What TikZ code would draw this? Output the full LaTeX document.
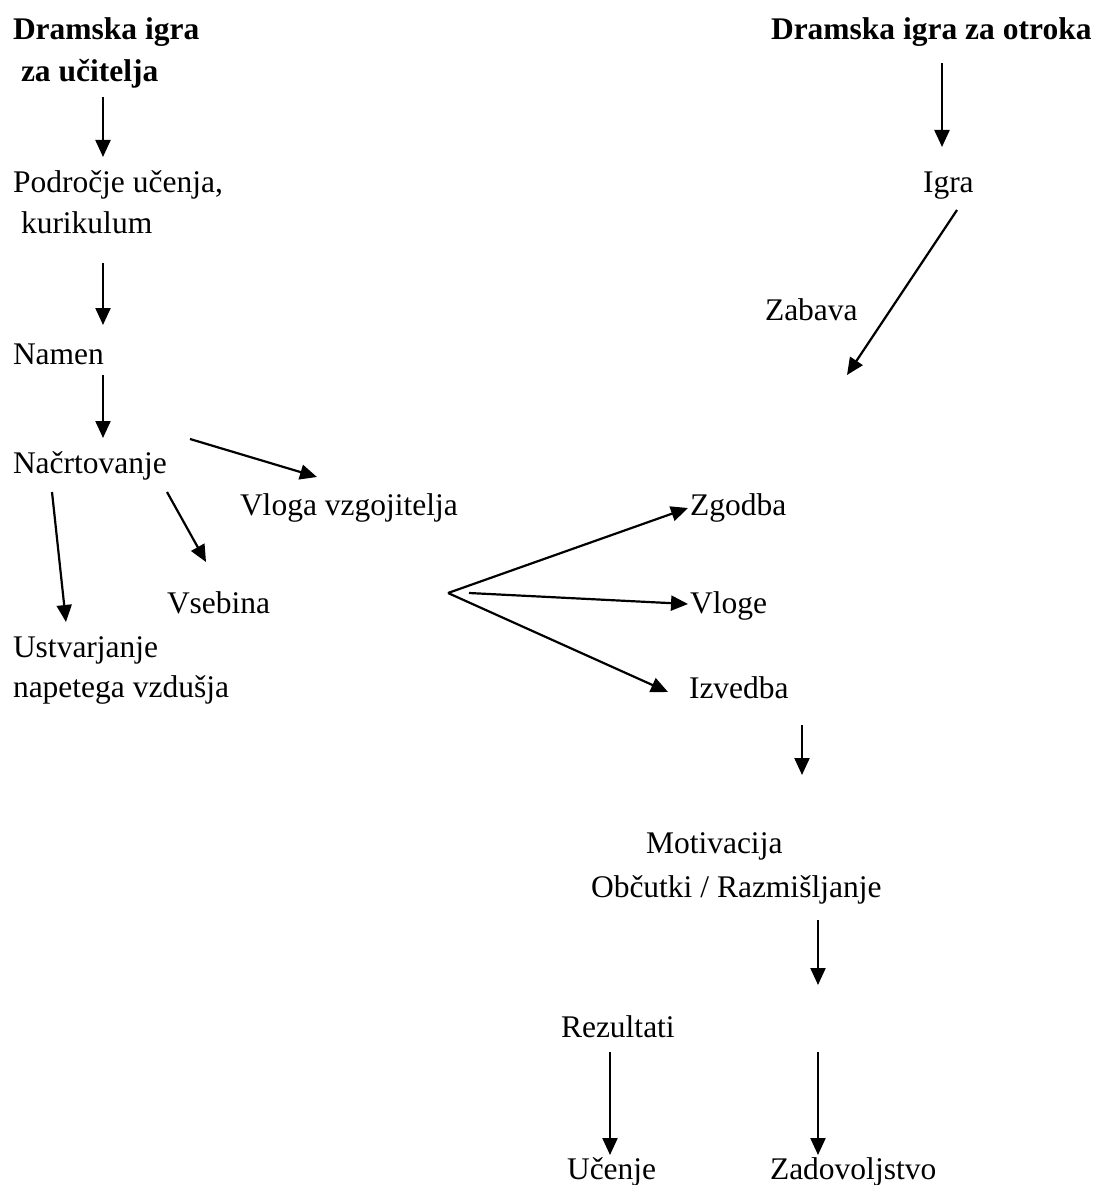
\documentclass[tikz,border=0pt]{standalone}
\usepackage{fontspec}
\setmainfont{Liberation Serif}
\usetikzlibrary{arrows.meta}
\begin{document}
\begin{tikzpicture}[x=1pt,y=-1pt,
  lbl/.style={anchor=base west,inner sep=0pt,outer sep=0pt,font=\fontsize{31.5}{38}\selectfont},
  hdr/.style={lbl,font=\fontsize{31.5}{38}\selectfont\bfseries},
  arr/.style={line width=2.2pt,-{Triangle[length=17pt,width=15pt]}}]
\useasboundingbox (0,0) rectangle (1101,1185);
% left column
\node[hdr] (u1) at (13,40) {Dramska igra};
\node[hdr] (u2) at (21,82) {za učitelja};
\node[lbl] (pod1) at (13,193) {Področje učenja,};
\node[lbl] (pod2) at (21,233) {kurikulum};
\node[lbl] (namen) at (13,364) {Namen};
\node[lbl] (nacrt) at (13,473) {Načrtovanje};
\node[lbl] (vloga) at (240,515) {Vloga vzgojitelja};
\node[lbl] (vseb) at (167,613) {Vsebina};
\node[lbl] (ustv1) at (13,657) {Ustvarjanje};
\node[lbl] (ustv2) at (13,697) {napetega vzdušja};
% right column
\node[hdr] (o1) at (771,40) {Dramska igra za otroka};
\node[lbl] (igra) at (923,193) {Igra};
\node[lbl] (zab) at (765,320) {Zabava};
\node[lbl] (zgod) at (690,515) {Zgodba};
\node[lbl] (vlog) at (690,613) {Vloge};
\node[lbl] (izv) at (689,698) {Izvedba};
\node[lbl] (mot) at (646,853) {Motivacija};
\node[lbl] (obc) at (591,897) {Občutki / Razmišljanje};
\node[lbl] (rez) at (561,1037) {Rezultati};
\node[lbl] (uc) at (567,1179) {Učenje};
\node[lbl] (zad) at (770,1179) {Zadovoljstvo};
% connector end points
\coordinate (a1s) at (103,97);  \coordinate (a1e) at (103,157);
\coordinate (a2s) at (103,263); \coordinate (a2e) at (103,325);
\coordinate (a3s) at (103,375); \coordinate (a3e) at (103,438);
\coordinate (a4s) at (190,439); \coordinate (a4e) at (317,477);
\coordinate (a5s) at (167,492); \coordinate (a5e) at (206,562);
\coordinate (a6s) at (52,492);  \coordinate (a6e) at (66,622);
\coordinate (b1s) at (942,63);  \coordinate (b1e) at (942,147);
\coordinate (b2s) at (957,210); \coordinate (b2e) at (847,375);
\coordinate (apex) at (448,593);
\coordinate (c1e) at (688,508);
\coordinate (c2s) at (469,593); \coordinate (c2e) at (688,604);
\coordinate (c3e) at (668,692);
\coordinate (d1s) at (802,725); \coordinate (d1e) at (802,775);
\coordinate (d2s) at (818,920); \coordinate (d2e) at (818,985);
\coordinate (d3s) at (610,1052); \coordinate (d3e) at (610,1155);
\coordinate (d4s) at (818,1052); \coordinate (d4e) at (818,1155);
% connectors
\draw[arr] (a1s) -- (a1e);
\draw[arr] (a2s) -- (a2e);
\draw[arr] (a3s) -- (a3e);
\draw[arr] (a4s) -- (a4e);
\draw[arr] (a5s) -- (a5e);
\draw[arr] (a6s) -- (a6e);
\draw[arr] (b1s) -- (b1e);
\draw[arr] (b2s) -- (b2e);
\draw[arr] (apex) -- (c1e);
\draw[arr] (apex) -- (c3e);
\draw[arr] (c2s) -- (c2e);
\draw[arr] (d1s) -- (d1e);
\draw[arr] (d2s) -- (d2e);
\draw[arr] (d3s) -- (d3e);
\draw[arr] (d4s) -- (d4e);
\end{tikzpicture}
\end{document}
